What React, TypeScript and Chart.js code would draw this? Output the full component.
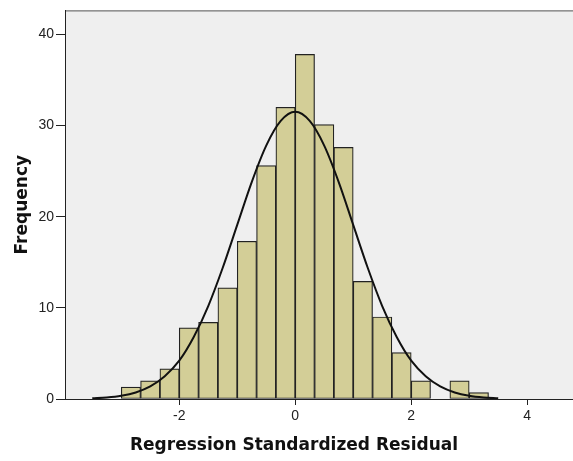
import React, { useEffect, useRef } from "react";
import { Chart, registerables } from "chart.js";

Chart.register(...registerables);

// Histogram bins (centers of bins of width 1/3)
const binCenters = [
  -2.8333, -2.5, -2.1667, -1.8333, -1.5, -1.1667, -0.8333, -0.5, -0.1667,
  0.1667, 0.5, 0.8333, 1.1667, 1.5, 1.8333, 2.1667, 2.5, 2.8333, 3.1667,
];
const frequencies = [
  1.3, 2.0, 3.3, 7.8, 8.4, 12.2, 17.3, 25.6, 32.0, 37.8, 30.1, 27.6, 12.9, 9.0,
  5.1, 2.0, 0, 2.0, 0.7,
];

// Fitted normal curve
const curveX = [
  -3.5, -3.25, -3, -2.75, -2.5, -2.25, -2, -1.75, -1.5, -1.25, -1, -0.75, -0.5,
  -0.25, 0, 0.25, 0.5, 0.75, 1, 1.25, 1.5, 1.75, 2, 2.25, 2.5, 2.75, 3, 3.25,
  3.5,
];
const curveY = [
  0.07, 0.16, 0.35, 0.72, 1.38, 2.5, 4.2, 6.8, 10.2, 14.4, 19.1, 23.8, 27.8,
  30.5, 31.5, 30.5, 27.8, 23.8, 19.1, 14.4, 10.2, 6.8, 4.2, 2.5, 1.38, 0.72,
  0.35, 0.16, 0.07,
];

const xTickValues = [-2, 0, 2, 4];
const yTickValues = [0, 10, 20, 30, 40];
const xTitle = "Regression Standardized Residual";
const yTitle = "Frequency";

const frame = {
  id: "frame",
  beforeDraw(chart: any) {
    const { ctx, chartArea: a } = chart;
    ctx.save();
    ctx.fillStyle = "#efefef";
    ctx.fillRect(a.left, a.top, a.right - a.left, a.bottom - a.top);
    ctx.strokeStyle = "#555";
    ctx.lineWidth = 1;
    ctx.beginPath();
    ctx.moveTo(a.left, a.top + 0.5);
    ctx.lineTo(a.right, a.top + 0.5);
    ctx.stroke();
    ctx.restore();
  },
  afterDraw(chart: any) {
    const { ctx } = chart;
    ctx.save();
    ctx.font = "bold 17px 'DejaVu Sans'";
    ctx.fillStyle = "#111";
    ctx.textAlign = "center";
    ctx.textBaseline = "middle";
    ctx.fillText(xTitle, 294, 446);
    ctx.restore();
  },
};

export default function App() {
  const ref = useRef<HTMLCanvasElement>(null);
  useEffect(() => {
    const chart = new Chart(ref.current!, {
      type: "bar",
      data: {
        datasets: [
          {
            type: "line",
            data: curveX.map((x, i) => ({ x, y: curveY[i] })),
            borderColor: "#111",
            borderWidth: 2,
            pointRadius: 0,
            tension: 0.4,
            cubicInterpolationMode: "monotone",
            fill: false,
            order: 0,
          } as any,
          {
            type: "bar",
            data: binCenters.map((x, i) => ({ x, y: frequencies[i] })),
            backgroundColor: "#d3ce97",
            borderColor: "#222",
            borderWidth: 1.2,
            borderSkipped: false,
            barPercentage: 1,
            categoryPercentage: 1,
            order: 1,
          } as any,
        ],
      },
      options: {
        responsive: false,
        animation: false,
        layout: { padding: { top: 10, left: 0, right: 0, bottom: 0 } },
        plugins: {
          legend: { display: false },
          tooltip: { enabled: false },
        },
        scales: {
          x: {
            type: "linear",
            min: -3.97,
            max: 4.79,
            offset: false,
            afterBuildTicks: (s: any) => {
              s.ticks = xTickValues.map((v) => ({ value: v }));
            },
            afterFit: (s: any) => {
              s.height = 62;
            },
            grid: {
              display: true,
              offset: false,
              drawOnChartArea: false,
              drawTicks: true,
              tickLength: 6,
              color: "#222",
            },
            border: { display: true, color: "#222", width: 1 },
            ticks: {
              padding: 3,
              color: "#222",
              font: { family: "'Liberation Sans', Arial", size: 14 },
              callback: (v: any) => String(v),
            },
          },
          y: {
            type: "linear",
            min: 0,
            max: 42.63,
            afterBuildTicks: (s: any) => {
              s.ticks = yTickValues.map((v) => ({ value: v }));
            },
            afterFit: (s: any) => {
              s.width = 65;
            },
            grid: {
              display: true,
              drawOnChartArea: false,
              drawTicks: true,
              tickLength: 9,
              color: "#222",
            },
            border: { display: true, color: "#222", width: 1 },
            ticks: {
              padding: 2,
              color: "#222",
              font: { family: "'Liberation Sans', Arial", size: 14 },
            },
            title: {
              display: true,
              text: yTitle,
              color: "#111",
              font: { family: "'DejaVu Sans'", size: 17, weight: "bold" },
              padding: { top: 12, bottom: 0 },
            },
          },
        },
      },
      plugins: [frame],
    });
    return () => chart.destroy();
  }, []);
  return (
    <div style={{ position: "absolute", left: 0, top: 0, width: 573, height: 461 }}>
      <canvas ref={ref} width={573} height={461} />
    </div>
  );
}
